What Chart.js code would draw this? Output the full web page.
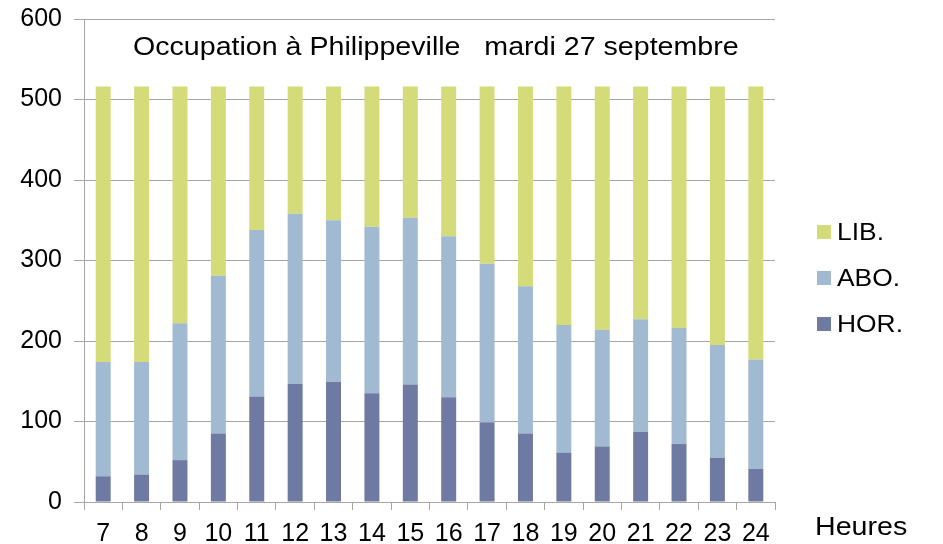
<!DOCTYPE html>
<html>
<head>
<meta charset="utf-8">
<script src="https://cdn.jsdelivr.net/npm/chart.js@4"></script>
<style>
  html, body { margin: 0; padding: 0; background: #fff; }
  #wrap { width: 943px; height: 544px; }
</style>
</head>
<body>
<div id="wrap"><canvas id="graphOccupation" width="943" height="544"></canvas></div>
<script>
const heures = ['7','8','9','10','11','12','13','14','15','16','17','18','19','20','21','22','23','24'];
const hor = [32, 34, 52, 85, 131, 147, 149, 135, 146, 130, 99, 85, 61, 69, 87, 72, 55, 41];
const abo = [142, 140, 170, 196, 207, 211, 201, 207, 207, 200, 197, 183, 159, 145, 140, 144, 140, 136];
const lib = [342, 342, 294, 235, 178, 158, 166, 174, 163, 186, 220, 248, 296, 302, 289, 300, 321, 339];

const titre = 'Occupation à Philippeville   mardi 27 septembre';
const police = '"Liberation Sans", Arial, sans-serif';

// texte un peu étiré comme sur l'original
function texteLarge(c, txt, x, y) {
  c.save();
  c.translate(x, y);
  c.scale(1.1, 1);
  c.fillText(txt, 0, 0);
  c.restore();
}

// titre, "Heures" et légende dessinés à la main
const textes = {
  id: 'textes',
  afterDraw(chart) {
    const c = chart.ctx;
    c.save();
    c.fillStyle = '#000';
    c.textBaseline = 'middle';
    c.textAlign = 'left';
    c.font = '26px ' + police;
    texteLarge(c, titre, 133, 48);
    texteLarge(c, 'Heures', 815, 528);

    // légende : LIB. en haut, HOR. en bas
    c.font = '24px ' + police;
    const ds = chart.data.datasets.slice().reverse();
    ds.forEach((d, i) => {
      const y = 232 + i * 46;
      c.fillStyle = d.backgroundColor;
      c.fillRect(817, y - 7, 14, 14);
      c.fillStyle = '#000';
      texteLarge(c, d.label, 837, y + 1);
    });
    c.restore();
  }
};

const ctx = document.getElementById('graphOccupation').getContext('2d');
new Chart(ctx, {
  type: 'bar',
  data: {
    labels: heures,
    datasets: [
      { label: 'HOR.', data: hor, backgroundColor: '#6f7aa2' },
      { label: 'ABO.', data: abo, backgroundColor: '#a1bad1' },
      { label: 'LIB.', data: lib, backgroundColor: '#d4dc7a' }
    ]
  },
  options: {
    responsive: false,
    animation: false,
    layout: { padding: { left: 0, right: 168, top: 19, bottom: 0 } },
    datasets: { bar: { barPercentage: 0.39, categoryPercentage: 1 } },
    plugins: {
      legend: { display: false },
      tooltip: { enabled: false }
    },
    scales: {
      x: {
        stacked: true,
        afterFit(s) { s.height = 42; },
        grid: { drawOnChartArea: false, color: '#a6a6a6', tickLength: 8, offset: true },
        border: { color: '#a6a6a6', width: 1 },
        ticks: { color: '#000', padding: 12, font: { family: police, size: 25, lineHeight: 1 }, maxRotation: 0, autoSkip: false }
      },
      y: {
        stacked: true,
        min: 0,
        max: 600,
        afterFit(s) { s.width = 84; s.paddingTop = 0; s.paddingBottom = 0; },
        grid: { color: '#a6a6a6', tickLength: 10 },
        border: { color: '#a6a6a6', width: 1 },
        ticks: { stepSize: 100, color: '#000', padding: 12, font: { family: police, size: 25 } }
      }
    }
  },
  plugins: [textes]
});
</script>
</body>
</html>
